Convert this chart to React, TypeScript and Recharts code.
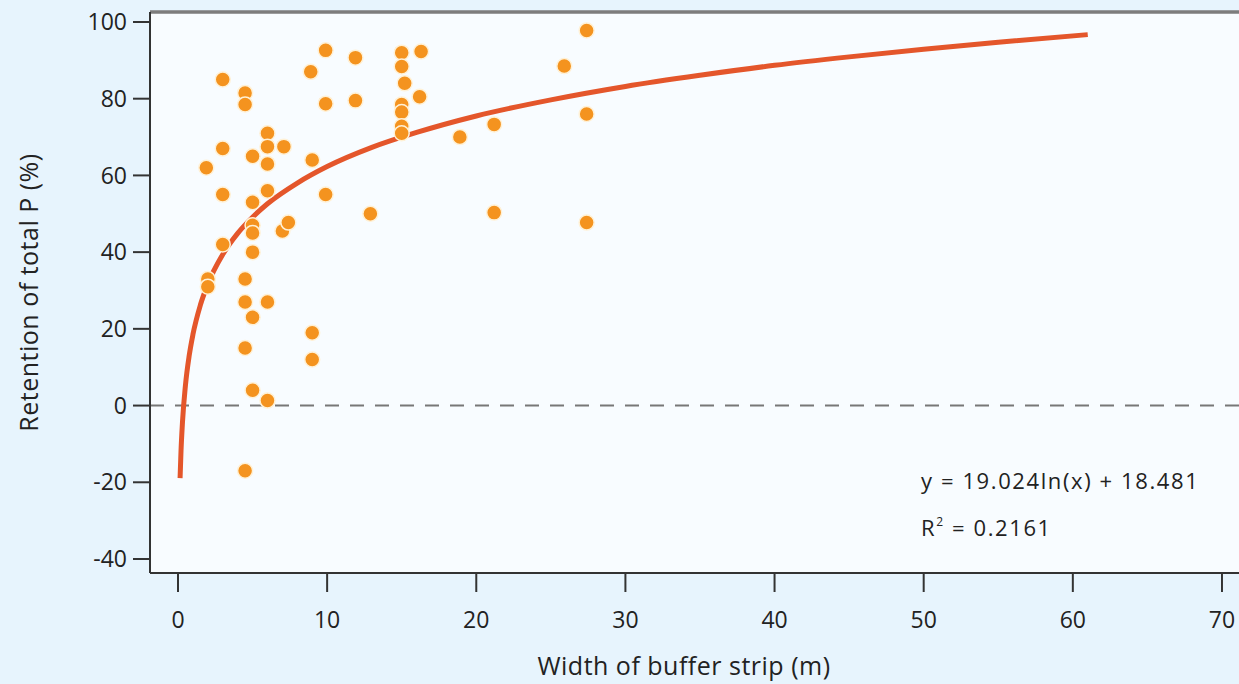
import React from "react";
import {
  CartesianGrid,
  ComposedChart,
  Line,
  ReferenceLine,
  Scatter,
  XAxis,
  YAxis,
} from "recharts";

// buffer strip width (m) vs retention of total P (%)
const stripWidth = [
  1.9, 2, 2,
  3, 3, 3, 3,
  4.5, 4.5, 4.5, 4.5, 4.5, 4.5,
  5, 5, 5, 5, 5, 5, 5,
  6, 6, 6, 6, 6, 6,
  7.1, 7, 7.4,
  8.9, 9, 9, 9,
  9.9, 9.9, 9.9,
  11.9, 11.9, 12.9,
  15, 15, 15.2, 15, 15, 15, 15, 16.3, 16.2,
  18.9, 21.2, 21.2, 25.9, 27.4, 27.4, 27.4,
];
const retention = [
  62, 33, 31,
  85, 67, 55, 42,
  81.5, 78.5, 33, 27, 15, -17,
  65, 53, 47, 45, 40, 23, 4,
  71, 67.5, 63, 56, 27, 1.3,
  67.5, 45.5, 47.7,
  87, 64, 19, 12,
  92.6, 78.7, 55,
  90.7, 79.5, 50,
  92, 88.4, 84, 78.5, 76.5, 72.8, 71, 92.3, 80.5,
  70, 73.3, 50.3, 88.5, 97.8, 76, 47.7,
];

// fitted log curve
const fitX = [0.14, 0.2, 0.3, 0.5, 0.75, 1, 1.5, 2, 3, 4, 5, 6, 8, 10, 13, 16, 20, 25, 30, 35, 40, 45, 50, 55, 61];
const fitY = [-18.9, -12.1, -4.4, 5.3, 13, 18.5, 26.2, 31.7, 39.4, 44.9, 49.1, 52.6, 58, 62.3, 67.3, 71.2, 75.5, 79.7, 83.2, 86.1, 88.7, 90.9, 92.9, 94.7, 96.7];

const xTicks = [0, 10, 20, 30, 40, 50, 60, 70];
const yTicks = [-40, -20, 0, 20, 40, 60, 80, 100];

const points = stripWidth.map((x, i) => ({ x, y: retention[i] }));
const fit = fitX.map((x, i) => ({ x, y: fitY[i] }));

const font = "'Open Sans', 'Noto Sans', sans-serif";
const X_DOMAIN = [-1.877, 72.55];
const Y_DOMAIN = [-43.65, 102.6];

const Dot = (props: any) => (
  <circle cx={props.cx} cy={props.cy} r={7.5} fill="#f4931f" stroke="#fff1d6" strokeWidth={1.5} />
);

export default function App() {
  const tick = { fontSize: 23, fill: "#222", fontFamily: font };
  const title = { fontSize: 25, fill: "#222", fontFamily: font, letterSpacing: 0.5 };
  return (
    <div
      style={{
        position: "absolute",
        left: 0,
        top: 0,
        width: 1239,
        height: 684,
        overflow: "hidden",
        background: "#e7f4fd",
        fontFamily: font,
      }}
    >
      <ComposedChart width={1260} height={684} margin={{ top: 12, right: 0, bottom: 0, left: 0 }}>
        <CartesianGrid horizontal={false} vertical={false} fill="#f8fcff" />
        <XAxis
          type="number"
          dataKey="x"
          domain={X_DOMAIN}
          ticks={xTicks}
          height={111}
          tickSize={19}
          tickMargin={20}
          tick={tick}
          axisLine={{ stroke: "#333", strokeWidth: 2 }}
          tickLine={{ stroke: "#333", strokeWidth: 2 }}
          label={{
            value: "Width of buffer strip (m)",
            position: "insideBottom",
            offset: 9,
            dx: -21,
            style: title,
          }}
        />
        <YAxis
          type="number"
          domain={Y_DOMAIN}
          ticks={yTicks}
          width={150}
          tickSize={17}
          tickMargin={6}
          tick={tick}
          axisLine={{ stroke: "#333", strokeWidth: 2 }}
          tickLine={{ stroke: "#333", strokeWidth: 2 }}
          label={{
            value: "Retention of total P (%)",
            angle: -90,
            position: "insideLeft",
            offset: 29,
            style: { ...title, textAnchor: "middle" },
          }}
        />
        <ReferenceLine y={Y_DOMAIN[1]} stroke="#7d7d7d" strokeWidth={3.5} />
        <ReferenceLine y={0} stroke="#777" strokeWidth={2} strokeDasharray="14 11" />
        <Scatter data={points} dataKey="y" shape={Dot} isAnimationActive={false} />
        <Line
          data={fit}
          dataKey="y"
          type="monotone"
          stroke="#e4562b"
          strokeWidth={5}
          dot={false}
          activeDot={false}
          isAnimationActive={false}
        />
      </ComposedChart>
      <div
        style={{
          position: "absolute",
          left: 921,
          top: 459,
          fontSize: 22,
          letterSpacing: 1.6,
          color: "#222",
          lineHeight: "42px",
        }}
      >
        <div>y = 19.024ln(x) + 18.481</div>
        <div>
          R<sup style={{ fontSize: 12, verticalAlign: "10px" }}>2</sup> = 0.2161
        </div>
      </div>
    </div>
  );
}
